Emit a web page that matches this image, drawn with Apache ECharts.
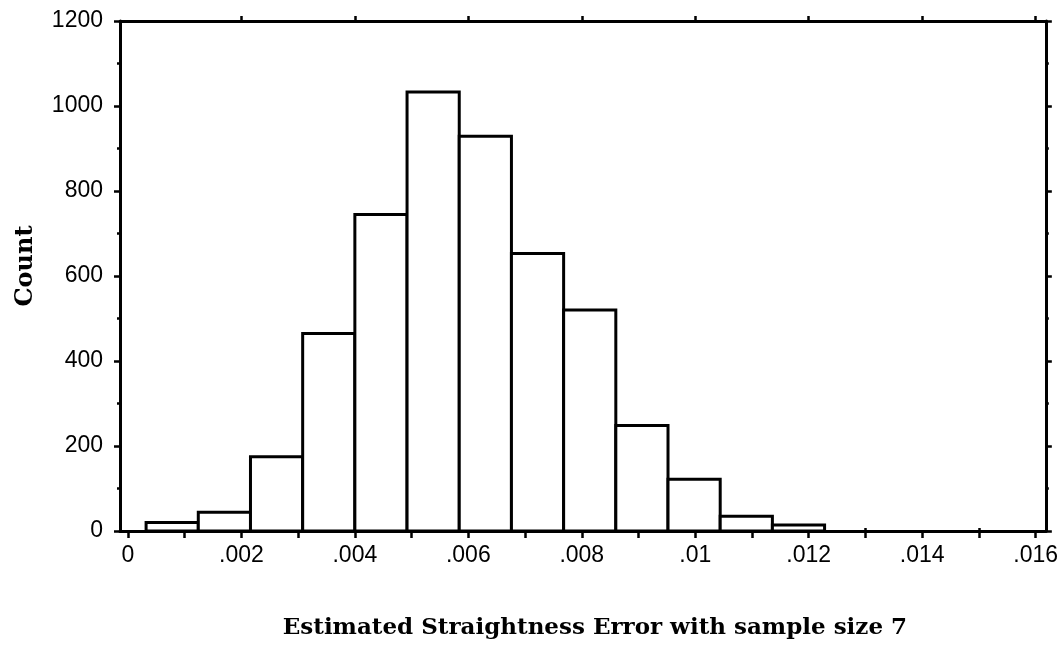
<!DOCTYPE html>
<html>
<head>
<meta charset="utf-8">
<script src="https://cdn.jsdelivr.net/npm/echarts@6/dist/echarts.min.js"></script>
<style>
html,body{margin:0;padding:0;background:#fff;}
#chart{width:1061px;height:646px;}
</style>
</head>
<body>
<div id="chart"></div>
<script>
// Histogram bin edges (Estimated Straightness Error) and counts
const binEdges = [0.00032, 0.00124, 0.00216, 0.00308, 0.00400, 0.00492, 0.00584, 0.00676, 0.00768, 0.00860, 0.00952, 0.01044, 0.01136, 0.01228];
const counts = [20, 44, 175, 465, 745, 1033, 929, 653, 520, 248, 122, 35, 14];
const xLabelValues = [0, 0.002, 0.004, 0.006, 0.008, 0.010, 0.012, 0.014, 0.016];
const xTickValues = [0, 0.001, 0.002, 0.003, 0.004, 0.005, 0.006, 0.007, 0.008, 0.009, 0.010, 0.011, 0.012, 0.013, 0.014, 0.015, 0.016];
const xTopMajor = [0.002, 0.004, 0.006, 0.008, 0.010, 0.012, 0.014, 0.016];
const xTopMinor = [0.001, 0.003, 0.005, 0.007, 0.009, 0.011, 0.013, 0.015];
const xTitle = 'Estimated Straightness Error with sample size 7';
const yTitle = 'Count';

const XMIN = -0.00014, XMAX = 0.01618;
const data = counts.map((c, i) => [binEdges[i], binEdges[i + 1], c]);

const fmtX = v => {
  if (Math.abs(v) < 1e-12) return '0';
  return String(+v.toFixed(3)).replace(/^0/, '');
};
const fmtY = v => String(v);

const lineStyle = {color: '#000', width: 3};
const tickStyle = {color: '#000', width: 2.5};
const labelFont = {color: '#000', fontFamily: 'Liberation Sans', fontSize: 23};
const nameFont = {color: '#000', fontFamily: 'DejaVu Serif', fontWeight: 'bold'};

const chart = echarts.init(document.getElementById('chart'), null, {renderer: 'canvas'});
chart.setOption({
  animation: false,
  backgroundColor: '#fff',
  grid: {left: 120, right: 14, top: 21, bottom: 115},
  xAxis: [
    {
      type: 'value', position: 'bottom', min: XMIN, max: XMAX,
      axisLine: {show: true, onZero: false, lineStyle: lineStyle},
      splitLine: {show: false},
      axisTick: {show: true, customValues: xTickValues, length: 7, lineStyle: tickStyle},
      axisLabel: Object.assign({customValues: xLabelValues, formatter: fmtX, margin: 13, showMinLabel: true, showMaxLabel: true}, labelFont),
      name: xTitle, nameLocation: 'middle', nameGap: 86,
      nameTextStyle: Object.assign({padding: [0, 0, 0, 24], fontSize: 23}, nameFont)
    },
    {
      type: 'value', position: 'top', min: XMIN, max: XMAX,
      axisLine: {show: true, onZero: false, lineStyle: lineStyle},
      splitLine: {show: false},
      axisTick: {show: true, customValues: xTopMajor, length: 5, lineStyle: tickStyle},
      axisLabel: {show: false}
    },
    {
      type: 'value', position: 'top', min: XMIN, max: XMAX,
      axisLine: {show: false},
      splitLine: {show: false},
      axisTick: {show: true, customValues: xTopMinor, length: 3, lineStyle: tickStyle},
      axisLabel: {show: false}
    }
  ],
  yAxis: [
    {
      type: 'value', position: 'left', min: 0, max: 1200, interval: 200,
      axisLine: {show: true, onZero: false, lineStyle: lineStyle},
      splitLine: {show: false},
      axisTick: {show: true, length: 6, lineStyle: tickStyle},
      minorTick: {show: true, splitNumber: 2, length: 3, lineStyle: tickStyle},
      axisLabel: Object.assign({margin: 17, formatter: fmtY}, labelFont),
      name: yTitle, nameLocation: 'middle', nameGap: 82, nameRotate: 90,
      nameTextStyle: Object.assign({padding: [0, 0, 0, 20], fontSize: 24}, nameFont)
    },
    {
      type: 'value', position: 'right', min: 0, max: 1200, interval: 200,
      axisLine: {show: true, onZero: false, lineStyle: lineStyle},
      splitLine: {show: false},
      axisTick: {show: true, length: 6, lineStyle: tickStyle},
      minorTick: {show: true, splitNumber: 2, length: 3, lineStyle: tickStyle},
      axisLabel: {show: false}
    }
  ],
  series: [{
    type: 'custom',
    xAxisIndex: 0, yAxisIndex: 0,
    encode: {x: [0, 1], y: 2},
    data: data,
    renderItem: function (params, api) {
      const p0 = api.coord([api.value(0), api.value(2)]);
      const p1 = api.coord([api.value(1), 0]);
      return {
        type: 'rect',
        shape: {x: p0[0], y: p0[1], width: p1[0] - p0[0], height: p1[1] - p0[1]},
        style: {fill: '#fff', stroke: '#000', lineWidth: 3}
      };
    }
  }]
});
</script>
</body>
</html>
